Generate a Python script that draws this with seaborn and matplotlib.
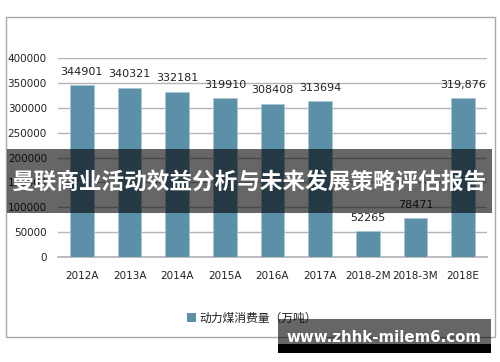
import matplotlib
matplotlib.use("Agg")
import matplotlib.pyplot as plt
import seaborn as sns
import pandas as pd
from matplotlib.patches import Rectangle, Patch

categories = ["2012A", "2013A", "2014A", "2015A", "2016A", "2017A", "2018-2M", "2018-3M", "2018E"]
values = [344901, 340321, 332181, 319910, 308408, 313694, 52265, 78471, 319876]
value_labels = ["344901", "340321", "332181", "319910", "308408", "313694", "52265", "78471", "319,876"]
series_name = "动力煤消费量（万吨）"
title_text = "曼联商业活动效益分析与未来发展策略评估报告"
watermark = "www.zhhk-milem6.com"
yticks = [0, 50000, 100000, 150000, 200000, 250000, 300000, 350000, 400000]

sns.set_theme(style="white")
plt.rcParams['font.family'] = ['Noto Sans CJK SC', 'DejaVu Sans']

W, H = 500, 362
fig = plt.figure(figsize=(5, 3.62), dpi=100)
ax = fig.add_axes([58 / W, 1 - 257 / H, (487 - 58) / W, (257 - 58) / H])

df = pd.DataFrame({"cat": categories, "val": values})
bar_color = "#5b90a8"
sns.barplot(data=df, x="cat", y="val", color=bar_color, width=0.5, ax=ax,
            saturation=1, edgecolor="#a9c6d4", linewidth=0.6, zorder=3)

ax.set_ylim(0, 400000)
ax.set_yticks(yticks)
ax.set_yticklabels([str(t) for t in yticks], fontsize=7.5, color="#222222", family="DejaVu Sans")
ax.tick_params(axis="x", labelsize=7.5, labelcolor="#222222", pad=10, length=0)
ax.tick_params(axis="y", length=0, pad=8)
for lab in ax.get_xticklabels():
    lab.set_family("DejaVu Sans")
ax.set_xlabel("")
ax.set_ylabel("")
ax.grid(axis="y", color="#b4b4b4", linewidth=1, zorder=0)
for s in ["left", "right", "top"]:
    ax.spines[s].set_visible(False)
ax.spines["bottom"].set_color("#b4b4b4")
ax.set_xlim(-0.5, len(categories) - 0.5)

for i, (v, t) in enumerate(zip(values, value_labels)):
    ax.annotate(t, (i, v), xytext=(0, 6), textcoords="offset points",
                ha="center", va="bottom", fontsize=8, color="#222222", family="DejaVu Sans")

# legend
handle = Patch(facecolor=bar_color, edgecolor="none")
fig.legend([handle], [series_name], loc="center", bbox_to_anchor=(252 / W, 1 - 318 / H),
           frameon=False, fontsize=8.5, handlelength=0.7, handleheight=0.7, handletextpad=0.3,
           labelcolor="#222222")

# outer frame
fig.patches.append(Rectangle((6 / W, 1 - 337 / H), (495 - 6) / W, (337 - 17) / H,
                             transform=fig.transFigure, fill=False, edgecolor="#a8a8a8",
                             linewidth=1, zorder=1))

# banner overlay
fig.patches.append(Rectangle((7 / W, 1 - 213 / H), (492 - 7) / W, (213 - 149) / H,
                             transform=fig.transFigure, facecolor="black", alpha=0.6,
                             edgecolor="none", zorder=10))
fig.text(249 / W, 1 - 182 / H, title_text, ha="center", va="center", color="white",
         fontsize=16.3, fontweight="bold", zorder=11)

# watermark
fig.patches.append(Rectangle((278 / W, 1 - 344 / H), (491 - 278) / W, (344 - 319) / H,
                             transform=fig.transFigure, facecolor="black", alpha=0.6,
                             edgecolor="none", zorder=10))
fig.patches.append(Rectangle((278 / W, 1 - 353 / H), (491 - 278) / W, (353 - 344) / H,
                             transform=fig.transFigure, facecolor="black",
                             edgecolor="none", zorder=10))
fig.text(384 / W, 1 - 337 / H, watermark, ha="center", va="center", color="white",
         fontsize=10.8, fontweight="bold", family="DejaVu Sans", zorder=11)

fig.savefig("out.png", dpi=100)
